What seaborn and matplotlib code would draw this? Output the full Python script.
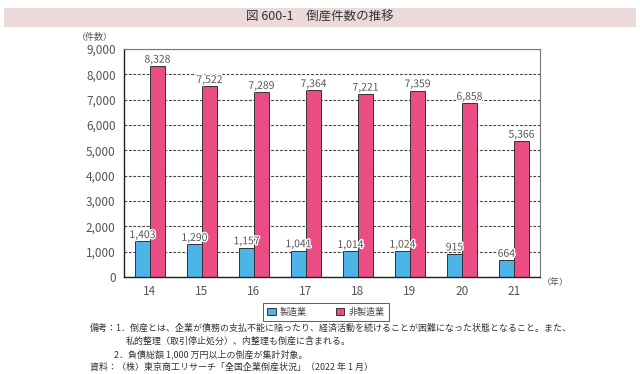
import pandas as pd
import matplotlib.pyplot as plt
import matplotlib.patheffects as pe
from matplotlib.patches import Rectangle
import seaborn as sns

# データ
years = ["14", "15", "16", "17", "18", "19", "20", "21"]
seizo = [1403, 1290, 1157, 1041, 1014, 1024, 915, 664]
hiseizo = [8328, 7522, 7289, 7364, 7221, 7359, 6858, 5366]
series_names = ["製造業", "非製造業"]
yticks = [0, 1000, 2000, 3000, 4000, 5000, 6000, 7000, 8000, 9000]

df = pd.DataFrame({
    "year": years * 2,
    "value": seizo + hiseizo,
    "type": [series_names[0]] * len(years) + [series_names[1]] * len(years),
})

sns.set_style("white")
plt.rcParams['font.family'] = ['Noto Sans CJK JP', 'DejaVu Sans']

W, H = 640, 374
fig = plt.figure(figsize=(6.4, 3.74), dpi=100)

# タイトル帯
fig.patches.append(Rectangle((4 / W, 1 - 27 / H), 632 / W, 19 / H, transform=fig.transFigure,
                             facecolor="#ecd9da", edgecolor="none", zorder=0))
fig.text(0.5, 1 - 17.5 / H, "図 600-1　倒産件数の推移", ha="center", va="center", fontsize=9, color="#333333")

ax = fig.add_axes([124 / W, 1 - 277 / H, 416 / W, 228 / H])
palette = {"製造業": "#4db4e7", "非製造業": "#ec4c84"}
sns.barplot(data=df, x="year", y="value", hue="type", palette=palette, width=0.58,
            edgecolor="#333333", linewidth=0.7, saturation=1, ax=ax, legend=False)

ax.set_ylim(0, 9000)
ax.set_yticks(yticks)
ax.set_yticklabels([f"{v:,}" for v in yticks])
ax.set_xlabel("")
ax.set_ylabel("")
ax.yaxis.grid(True, linestyle=(0, (2.5, 1.5)), color="#444444", linewidth=0.8)
ax.set_axisbelow(True)
ax.tick_params(axis="both", labelsize=8.5, colors="#555555", length=0, pad=6)
for s in ["left", "bottom"]:
    ax.spines[s].set_color("#222222")
    ax.spines[s].set_linewidth(1.0)
for s in ["top", "right"]:
    ax.spines[s].set_color("#777777")
    ax.spines[s].set_linewidth(0.8)

for c in ax.containers:
    labels = ax.bar_label(c, labels=[f"{int(v.get_height()):,}" for v in c], padding=1,
                          fontsize=7.5, color="#555555")
    for t in labels:
        t.set_path_effects([pe.withStroke(linewidth=2, foreground="white")])

fig.text(95 / W, 1 - 37 / H, "（件数）", ha="center", va="center", fontsize=6.5, color="#555555")
fig.text(555 / W, 1 - 283 / H, "（年）", ha="center", va="center", fontsize=6.5, color="#555555")

# 凡例
handles = [Rectangle((0, 0), 1, 1, facecolor=palette[n], edgecolor="#333333", linewidth=0.7) for n in series_names]
leg = fig.legend(handles, series_names, loc="center", bbox_to_anchor=(326 / W, 1 - 312 / H), ncol=2,
                 fontsize=6.5, frameon=True, fancybox=False, edgecolor="#333333", handlelength=0.9,
                 handleheight=0.9, columnspacing=3.2, handletextpad=0.5, borderpad=0.45)
leg.get_frame().set_linewidth(0.7)
for t in leg.get_texts():
    t.set_color("#444444")

notes = [
    (90, 328, "備考：1．倒産とは、企業が債務の支払不能に陥ったり、経済活動を続けることが困難になった状態となること。また、"),
    (126, 341, "私的整理（取引停止処分）、内整理も倒産に含まれる。"),
    (114, 354, "2．負債総額 1,000 万円以上の倒産が集計対象。"),
    (90, 367, "資料：（株）東京商工リサーチ「全国企業倒産状況」（2022 年 1 月）"),
]
for x, y, s in notes:
    fig.text(x / W, 1 - y / H, s, ha="left", va="center", fontsize=6.45, color="#333333")

plt.savefig("out.png", dpi=100)
plt.close()
